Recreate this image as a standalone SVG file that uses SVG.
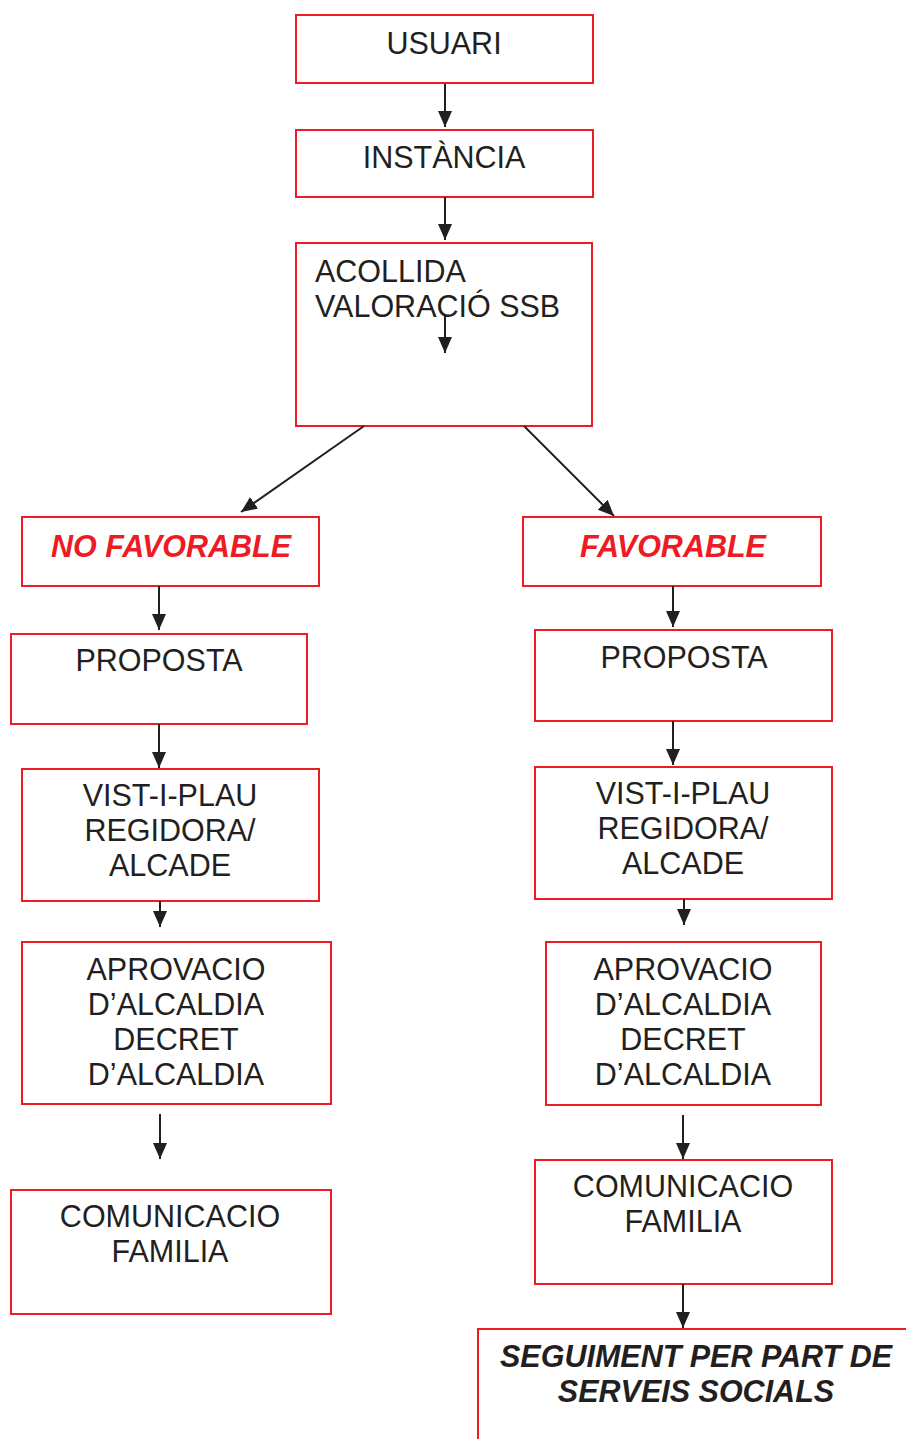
<svg xmlns="http://www.w3.org/2000/svg" width="906" height="1439" viewBox="0 0 906 1439">
<defs>
<marker id="ah" markerUnits="userSpaceOnUse" markerWidth="17" markerHeight="17" viewBox="0 0 17 17" refX="16" refY="8.5" orient="auto">
<path d="M0,1.5 L16,8.5 L0,15.5 Z" fill="#231f20"/>
</marker>
<style>
.box{fill:#fff;stroke:#ed1c24;stroke-width:2}
.t{font-family:"Liberation Sans",Arial,sans-serif;font-size:30.5px;fill:#231f20;text-anchor:middle}
.r{font-family:"Liberation Sans",Arial,sans-serif;font-size:30.5px;font-weight:bold;font-style:italic;fill:#ed1c24;text-anchor:middle}
.k{font-family:"Liberation Sans",Arial,sans-serif;font-size:30.5px;font-weight:bold;font-style:italic;fill:#231f20;text-anchor:middle}
.s{text-anchor:start}
.c{stroke:#231f20;stroke-width:2;fill:none;marker-end:url(#ah)}
</style>
</defs>
<rect width="906" height="1439" fill="#fff"/>
<g id="usuari"><rect class="box" x="296" y="15" width="297" height="68"/><text class="t" x="444" y="54">USUARI</text></g>
<g id="instancia"><rect class="box" x="296" y="130" width="297" height="67"/><text class="t" x="444" y="168">INSTÀNCIA</text></g>
<g id="acollida"><rect class="box" x="296" y="243" width="296" height="183"/><text class="t s" x="315" y="282">ACOLLIDA</text><text class="t s" x="315" y="317">VALORACIÓ SSB</text></g>
<g id="nofavorable"><rect class="box" x="22" y="517" width="297" height="69"/><text class="r" x="171" y="557">NO FAVORABLE</text></g>
<g id="favorable"><rect class="box" x="523" y="517" width="298" height="69"/><text class="r" x="673" y="557">FAVORABLE</text></g>
<g id="proposta-l"><rect class="box" x="11" y="634" width="296" height="90"/><text class="t" x="159" y="671">PROPOSTA</text></g>
<g id="proposta-r"><rect class="box" x="535" y="630" width="297" height="91"/><text class="t" x="684" y="668">PROPOSTA</text></g>
<g id="vist-l"><rect class="box" x="22" y="769" width="297" height="132"/><text class="t" x="170" y="806">VIST-I-PLAU</text><text class="t" x="170" y="841">REGIDORA/</text><text class="t" x="170" y="876">ALCADE</text></g>
<g id="vist-r"><rect class="box" x="535" y="767" width="297" height="132"/><text class="t" x="683" y="804">VIST-I-PLAU</text><text class="t" x="683" y="839">REGIDORA/</text><text class="t" x="683" y="874">ALCADE</text></g>
<g id="aprov-l"><rect class="box" x="22" y="942" width="309" height="162"/><text class="t" x="176" y="980">APROVACIO</text><text class="t" x="176" y="1015">D’ALCALDIA</text><text class="t" x="176" y="1050">DECRET</text><text class="t" x="176" y="1085">D’ALCALDIA</text></g>
<g id="aprov-r"><rect class="box" x="546" y="942" width="275" height="163"/><text class="t" x="683" y="980">APROVACIO</text><text class="t" x="683" y="1015">D’ALCALDIA</text><text class="t" x="683" y="1050">DECRET</text><text class="t" x="683" y="1085">D’ALCALDIA</text></g>
<g id="comun-l"><rect class="box" x="11" y="1190" width="320" height="124"/><text class="t" x="170" y="1227">COMUNICACIO</text><text class="t" x="170" y="1262">FAMILIA</text></g>
<g id="comun-r"><rect class="box" x="535" y="1160" width="297" height="124"/><text class="t" x="683" y="1197">COMUNICACIO</text><text class="t" x="683" y="1232">FAMILIA</text></g>
<g id="seguiment"><rect class="box" x="478" y="1329" width="440" height="130"/><text class="k" x="696" y="1367">SEGUIMENT PER PART DE</text><text class="k" x="696" y="1402">SERVEIS SOCIALS</text></g>
<g id="connectors">
<line class="c" x1="445" y1="84" x2="445" y2="127"/>
<line class="c" x1="445" y1="197" x2="445" y2="240"/>
<line class="c" x1="445" y1="314" x2="445" y2="353"/>
<line class="c" x1="364" y1="426" x2="241" y2="512"/>
<line class="c" x1="524" y1="426" x2="614" y2="516"/>
<line class="c" x1="159" y1="586" x2="159" y2="630"/>
<line class="c" x1="673" y1="586" x2="673" y2="627"/>
<line class="c" x1="159" y1="724" x2="159" y2="768"/>
<line class="c" x1="673" y1="721" x2="673" y2="765"/>
<line class="c" x1="160" y1="901" x2="160" y2="927"/>
<line class="c" x1="684" y1="899" x2="684" y2="925"/>
<line class="c" x1="160" y1="1114" x2="160" y2="1159"/>
<line class="c" x1="683" y1="1115" x2="683" y2="1159"/>
<line class="c" x1="683" y1="1284" x2="683" y2="1328"/>
</g>
</svg>
